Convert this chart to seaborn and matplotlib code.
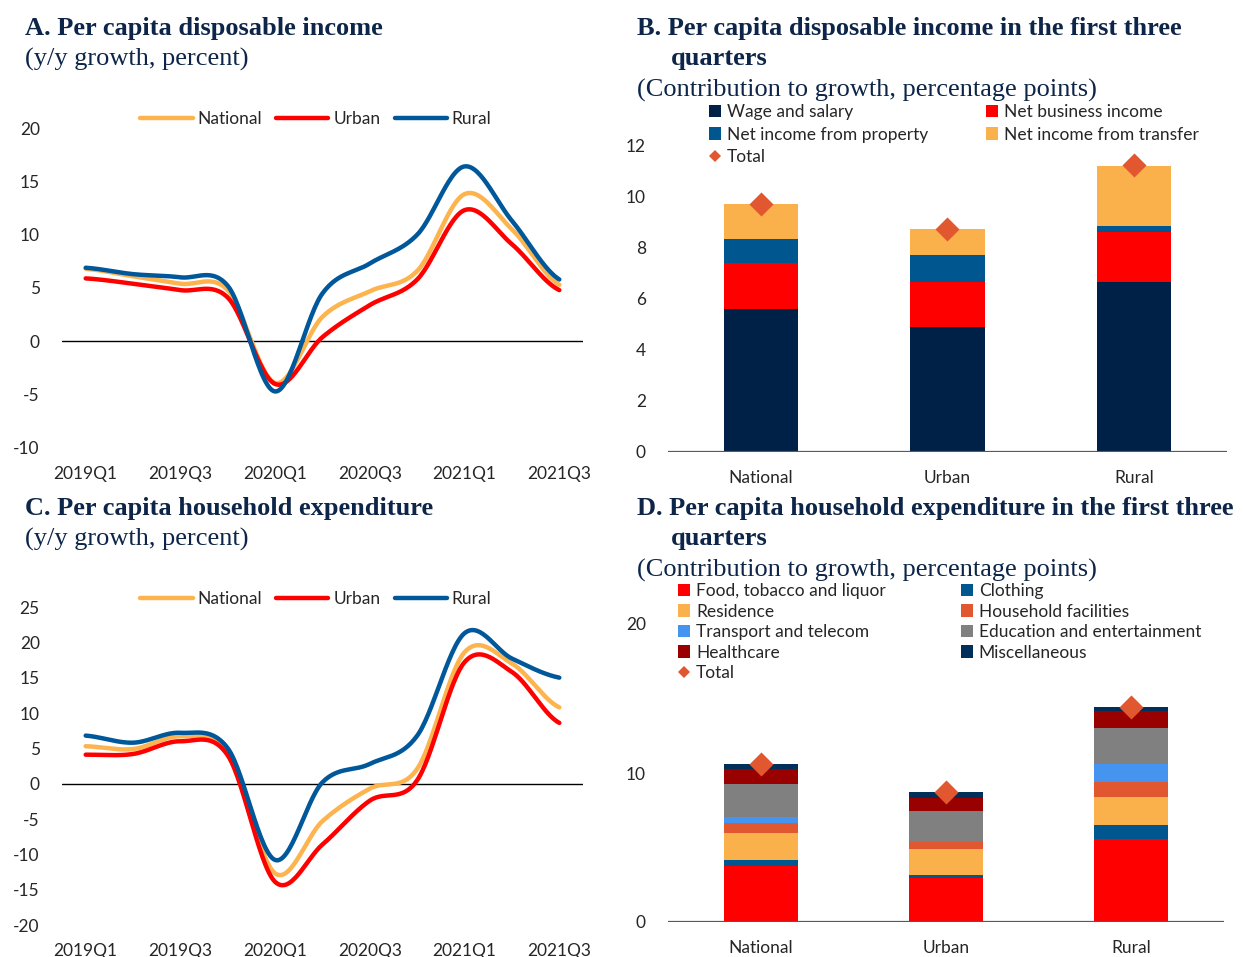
import numpy as np
import matplotlib
matplotlib.use("Agg")
import matplotlib.pyplot as plt
from matplotlib.patches import Patch
from matplotlib.lines import Line2D
import seaborn as sns

# ---------------------------------------------------------------
# Data
# ---------------------------------------------------------------
quarters = ["2019Q1", "2019Q2", "2019Q3", "2019Q4", "2020Q1", "2020Q2",
            "2020Q3", "2020Q4", "2021Q1", "2021Q2", "2021Q3"]

# A. disposable income, y/y growth
inc_national = [6.8, 6.1, 5.4, 4.8, -3.9, 2.3, 4.7, 6.6, 13.8, 10.5, 5.3]
inc_urban = [5.9, 5.4, 4.8, 4.1, -4.0, 0.4, 3.4, 5.8, 12.3, 9.1, 4.8]
inc_rural = [6.9, 6.3, 6.0, 5.2, -4.7, 4.5, 7.3, 10.0, 16.4, 11.3, 5.8]

# C. household expenditure, y/y growth
exp_national = [5.3, 4.9, 6.7, 4.5, -12.7, -5.3, -0.7, 2.1, 18.6, 17.0, 10.8]
exp_urban = [4.1, 4.2, 6.0, 4.0, -13.9, -8.6, -2.4, 0.5, 17.2, 15.8, 8.6]
exp_rural = [6.8, 5.8, 7.2, 5.0, -10.8, 0.2, 2.8, 6.8, 21.3, 17.7, 15.0]

regions = ["National", "Urban", "Rural"]

# B. income contributions (National, Urban, Rural)
inc_parts = ["Wage and salary", "Net business income",
             "Net income from property", "Net income from transfer"]
wage = [5.58, 4.88, 6.65]
business = [1.81, 1.77, 1.93]
property_inc = [0.93, 1.04, 0.26]
transfer = [1.37, 1.01, 2.33]
inc_total = [9.7, 8.7, 11.2]

# D. expenditure contributions
exp_parts = ["Food, tobacco and liquor", "Clothing", "Residence",
             "Household facilities", "Transport and telecom",
             "Education and entertainment", "Healthcare", "Miscellaneous"]
food = [3.74, 2.98, 5.60]
clothing = [0.41, 0.18, 0.88]
residence = [1.79, 1.71, 1.91]
household = [0.72, 0.51, 0.98]
transport = [0.40, 0.00, 1.21]
education = [2.20, 2.09, 2.45]
healthcare = [0.99, 0.87, 1.10]
misc = [0.35, 0.38, 0.29]
exp_total = [10.6, 8.7, 14.4]

# ---------------------------------------------------------------
# Style
# ---------------------------------------------------------------
sns.set_style("white")
plt.rcParams["font.family"] = ["Lato", "DejaVu Sans"]
plt.rcParams["axes.unicode_minus"] = False

NAVY_TXT = "#0C2548"
C_NAT, C_URB, C_RUR = "#FDB44E", "#FF0000", "#00579A"
C_TOTAL = "#E1572F"
inc_colors = ["#002147", "#FF0000", "#00568F", "#FBB14B"]
exp_colors = ["#FF0000", "#00568F", "#FBB14B", "#E1572F",
              "#4494F0", "#808080", "#990000", "#002F5A"]
TICK_FS = 12.5
TITLE_FS = 19

W, H = 1243, 957


def frac(x, y):
    return x / W, 1 - y / H


def rect(l, t, r, b):
    return [l / W, 1 - b / H, (r - l) / W, (b - t) / H]


def smooth(vals, steps=30):
    # catmull-rom path through the points, like Excel's smoothed line
    p = np.r_[vals[0], vals, vals[-1]]
    xs, ys = [], []
    t = np.linspace(0, 1, steps, endpoint=False)
    for i in range(len(vals) - 1):
        p0, p1, p2, p3 = p[i], p[i + 1], p[i + 2], p[i + 3]
        y = 0.5 * (2 * p1 + (-p0 + p2) * t
                   + (2 * p0 - 5 * p1 + 4 * p2 - p3) * t ** 2
                   + (-p0 + 3 * p1 - 3 * p2 + p3) * t ** 3)
        xs.extend(i + t)
        ys.extend(y)
    xs.append(len(vals) - 1)
    ys.append(vals[-1])
    return np.array(xs), np.array(ys)


def line_panel(ax, series, ylim, yticks, legend_xy):
    for name, vals, col in series:
        xs, ys = smooth(vals)
        sns.lineplot(x=xs, y=ys, ax=ax, color=col, lw=3.2, label=name,
                     sort=False, estimator=None)
    ax.axhline(0, color="black", lw=1, zorder=0)
    ax.set_xlim(-0.5, len(quarters) - 0.5)
    ax.set_ylim(*ylim)
    ax.set_yticks(yticks)
    ax.set_xticks(range(0, len(quarters), 2))
    ax.set_xticklabels(quarters[::2])
    ax.set_xlabel("")
    ax.set_ylabel("")
    ax.tick_params(axis="y", length=0, pad=16, labelsize=TICK_FS)
    ax.tick_params(axis="x", length=0, pad=13, labelsize=TICK_FS)
    sns.despine(ax=ax, left=True, bottom=True)
    ax.legend(loc="center", bbox_to_anchor=legend_xy,
              bbox_transform=fig.transFigure, ncol=3, frameon=False,
              fontsize=TICK_FS, handlelength=3.0, handletextpad=0.3,
              columnspacing=0.8)


def bar_panel(ax, parts, colors, names, totals, ylim, yticks, legend_xy,
              colspacing, labelspacing):
    cum = np.cumsum(np.array(parts), axis=0)
    for k in range(len(parts) - 1, -1, -1):
        sns.barplot(x=regions, y=cum[k], color=colors[k], width=0.4,
                    saturation=1, linewidth=0, errorbar=None, ax=ax)
    ax.scatter(range(len(regions)), totals, marker="D", s=150,
               color=C_TOTAL, zorder=5, linewidths=0)
    ax.axhline(0, color="#595959", lw=1.6, zorder=6)
    ax.set_xlim(-0.5, len(regions) - 0.5)
    ax.set_ylim(*ylim)
    ax.set_yticks(yticks)
    ax.set_xlabel("")
    ax.set_ylabel("")
    ax.tick_params(axis="y", length=0, pad=16, labelsize=TICK_FS)
    ax.tick_params(axis="x", length=0, pad=13, labelsize=TICK_FS)
    sns.despine(ax=ax, left=True, bottom=True)

    handles = {n: Patch(facecolor=c, edgecolor="none")
               for n, c in zip(names, colors)}
    total_h = Line2D([], [], marker="D", ls="", color=C_TOTAL, ms=6.5,
                     mew=0)
    order = names[0::2] + ["Total"] + names[1::2]
    hs = [handles[n] if n != "Total" else total_h for n in order]
    ax.legend(hs, order, loc="upper left", bbox_to_anchor=legend_xy,
              bbox_transform=fig.transFigure, ncol=2, frameon=False,
              fontsize=TICK_FS, handlelength=0.7, handleheight=0.7,
              handletextpad=0.35, columnspacing=colspacing,
              labelspacing=labelspacing, borderpad=0, borderaxespad=0)


fig = plt.figure(figsize=(W / 100, H / 100), dpi=100)

# ---------------------------------------------------------------
# A. Per capita disposable income
# ---------------------------------------------------------------
axA = fig.add_axes(rect(62, 128, 583, 448))
line_panel(axA, [("National", inc_national, C_NAT),
                 ("Urban", inc_urban, C_URB),
                 ("Rural", inc_rural, C_RUR)],
           (-10, 20), range(-10, 21, 5), frac(316, 119))

# ---------------------------------------------------------------
# B. Income contributions
# ---------------------------------------------------------------
axB = fig.add_axes(rect(668, 145, 1227, 452))
bar_panel(axB, [wage, business, property_inc, transfer], inc_colors,
          inc_parts, inc_total, (0, 12), range(0, 13, 2),
          frac(709, 104), 3.3, 0.38)

# ---------------------------------------------------------------
# C. Per capita household expenditure
# ---------------------------------------------------------------
axC = fig.add_axes(rect(62, 607, 583, 925))
line_panel(axC, [("National", exp_national, C_NAT),
                 ("Urban", exp_urban, C_URB),
                 ("Rural", exp_rural, C_RUR)],
           (-20, 25), range(-20, 26, 5), frac(316, 599))

# ---------------------------------------------------------------
# D. Expenditure contributions
# ---------------------------------------------------------------
axD = fig.add_axes(rect(668, 624, 1224, 922))
bar_panel(axD, [food, clothing, residence, household, transport,
                education, healthcare, misc], exp_colors, exp_parts,
          exp_total, (0, 20), [0, 10, 20], frac(678, 583), 4.3, 0.26)

# ---------------------------------------------------------------
# Titles
# ---------------------------------------------------------------
serif = ["Liberation Serif", "DejaVu Serif"]
titles = [
    (25, 28, "A. Per capita disposable income", "bold"),
    (25, 59, "(y/y growth, percent)", "normal"),
    (637, 29, "B. Per capita disposable income in the first three", "bold"),
    (671, 59, "quarters", "bold"),
    (637, 90, "(Contribution to growth, percentage points)", "normal"),
    (25, 509, "C. Per capita household expenditure", "bold"),
    (25, 539, "(y/y growth, percent)", "normal"),
    (637, 509, "D. Per capita household expenditure in the first three", "bold"),
    (671, 539, "quarters", "bold"),
    (637, 570, "(Contribution to growth, percentage points)", "normal"),
]
for x, y, s, w in titles:
    fig.text(*frac(x, y), s, family=serif, fontsize=TITLE_FS, weight=w,
             color=NAVY_TXT, ha="left", va="center")

fig.savefig("out.png", dpi=100)
